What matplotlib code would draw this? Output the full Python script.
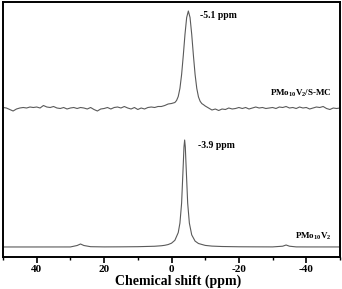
import matplotlib
matplotlib.use("Agg")
import matplotlib.pyplot as plt
import numpy as np
from matplotlib.ticker import MultipleLocator

plt.rcParams['font.family'] = ['Liberation Serif', 'DejaVu Serif']
plt.rcParams['font.weight'] = 'bold'
plt.rcParams['axes.unicode_minus'] = False
plt.rcParams['mathtext.default'] = 'regular'

# ---- data (intensity relative to each spectrum's baseline) ----
ppm_top = ([float(v) for v in range(50, -1, -1)]
           + [-0.5, -1.0, -1.5, -2.0, -2.5, -3.0, -3.5, -4.0, -4.5, -5.0,
              -5.5, -6.0, -6.5, -7.0, -7.5, -8.0, -8.5, -9.0, -9.5]
           + [float(v) for v in range(-10, -51, -1)])
int_top = [0.5, 0, -1.5, -3, -1, 0, 0.5, 0, 1, 0.5,          # 50..41
           1, 0, 2.5, 1, 0.5, 1.5, 0, -0.5, 0.5, -1,         # 40..31
           0, 0.5, -0.5, 0.5, 0, -1, 0.5, -1.5, -3, -1,      # 30..21
           -0.5, 0.5, -1, 0.5, 1, 0, 1.5, 0, -1, 0.5,        # 20..11
           -1.5, 0, -1, 0.5, 1, 0.5, 1.5, 1.5, 2.5, 4,       # 10..1
           4.5,                                              # 0
           5, 5.5, 7.5, 11.5, 19.6, 33.5, 52.6, 73.6, 90.5, 97,
           90.5, 73.6, 52.6, 33.5, 19.6, 11.1, 6.7, 4.4, 3.3,
           2.0, 0, -2, -1, -2.5, -1, -1.5, 0, -1, -0.5,       # -10..-19
           0.5, -0.5, 0.5, -1, 0, 1, 0, 0.5, -0.5, 0,         # -20..-29
           0.5, -0.5, 1, 0.5, 1.5, 0, 0.5, -0.5, 1, 0,        # -30..-39
           0.5, -1, 0, 1, 0.5, 1.5, -0.5, -1.5, 0, -0.5, 0]   # -40..-50

ppm_bot = [50, 45, 40, 35, 30, 28, 27, 26, 24, 20, 15, 10, 5, 3, 2, 1, 0,
           -1, -2, -2.5, -3, -3.5, -3.7, -3.9, -4.1, -4.3, -4.8, -5.3, -6,
           -7, -8, -10, -12, -15, -20, -25, -30, -33, -34, -35, -37, -40,
           -45, -50]
int_bot = [0.02, 0.03, 0.03, 0.04, 0.05, 1.5, 3.0, 1.5, 0.3, 0.1, 0.17,
           0.31, 0.75, 1.25, 1.7, 2.45, 3.8, 6.7, 14.4, 23.9, 43.9, 83.3,
           99.9, 107, 99.9, 83.3, 43.9, 23.9, 12.1, 5.9, 3.5, 1.6, 0.9,
           0.49, 0.23, 0.15, 0.1, 0.8, 2.0, 0.8, 0.1, 0.06, 0.05, 0.05]

labels = ['PMo$_{10}$V$_2$/S-MC', 'PMo$_{10}$V$_2$']
peak_labels = ['-5.1 ppm', '-3.9 ppm']
xticks = [40, 20, 0, -20, -40]

# ---- plot ----
fig = plt.figure(figsize=(3.42, 2.89), dpi=100)
ax = fig.add_axes([3/342, 32/289, 337/342, 255/289])

off_top, off_bot = 149, 10
line_kw = dict(color='#5a5a5a', lw=0.8)
ax.plot(ppm_top, np.array(int_top) + off_top, **line_kw)
ax.plot(ppm_bot, np.array(int_bot) + off_bot, **line_kw)

ax.set_xlim(50, -50)
ax.set_ylim(0, 255)
ax.set_yticks([])
ax.set_xticks(xticks)
ax.set_xticklabels([str(t) for t in xticks])
ax.xaxis.set_minor_locator(MultipleLocator(10))
ax.tick_params(axis='x', which='major', direction='out', length=4, width=1.2,
               labelsize=8, pad=2)
ax.tick_params(axis='x', which='minor', direction='out', length=2.5, width=1.0)
for s in ax.spines.values():
    s.set_linewidth(1.4)
ax.set_xlabel('Chemical shift (ppm)', fontsize=10, fontweight='bold')
ax.xaxis.set_label_coords(0.52, -0.094)
ax.xaxis.label.set_va('center')

ax.text(-8.5, 241, peak_labels[0], fontsize=7, fontweight='bold', va='center', ha='left')
ax.text(-8.0, 112, peak_labels[1], fontsize=7, fontweight='bold', va='center', ha='left')
ax.text(-47.5, 164, labels[0], fontsize=6.5, fontweight='bold', va='center', ha='right')
ax.text(-47.5, 21, labels[1], fontsize=6.5, fontweight='bold', va='center', ha='right')

fig.savefig('out.png', dpi=100)
